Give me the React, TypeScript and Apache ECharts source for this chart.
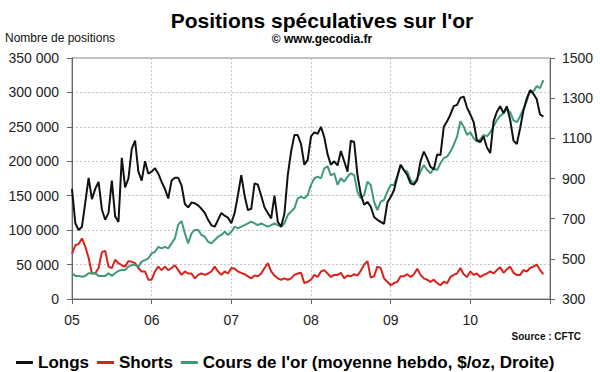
import { useEffect, useRef } from 'react';
import * as echarts from 'echarts';

// Sampling: two readings per month, starting January 2005
const START_YEAR = 2005;
const SAMPLES_PER_YEAR = 24;
const yearTicks = ['05', '06', '07', '08', '09', '10'];

// Longs, thousands of positions
const longs = [
  160, 110, 100, 105, 140, 176, 145, 160, 170, 130, 115, 125, 172, 120, 112, 205, 162, 175,
  218, 230, 185, 172, 200, 182, 185, 190, 182, 170, 160, 146, 172, 176, 176, 165, 138, 133,
  140, 139, 136, 131, 125, 115, 107, 105, 115, 125, 121, 118, 110, 125, 151, 180, 150, 129,
  131, 168, 166, 150, 133, 125, 117, 150, 112, 105, 124, 180, 214, 238, 238, 225, 195, 202,
  236, 242, 240, 250, 235, 210, 195, 200, 194, 215, 200, 185, 230, 228, 180, 152, 137, 141,
  134, 119, 115, 112, 109, 140, 148, 158, 178, 195, 187, 180, 168, 166, 173, 200, 214, 204,
  192, 188, 210, 209, 250, 258, 268, 280, 282, 292, 294, 278, 268, 257, 230, 228, 236, 220,
  212, 258, 272, 280, 270, 280, 260, 230, 225, 248, 274, 291, 303, 298, 290, 268, 265,
];

// Shorts, thousands of positions
const shorts = [
  66, 78, 80, 88, 76, 60, 37, 37, 45, 68, 70, 47, 45, 57, 52, 49, 47, 55,
  54, 52, 45, 40, 40, 28, 28, 40, 47, 42, 47, 42, 45, 49, 42, 35, 40, 37,
  37, 30, 35, 37, 35, 37, 40, 47, 40, 35, 40, 37, 45, 44, 40, 38, 36, 33,
  30, 34, 33, 37, 45, 52, 40, 34, 30, 28, 30, 28, 30, 35, 37, 38, 23, 25,
  28, 35, 32, 40, 42, 37, 32, 35, 35, 38, 30, 34, 33, 36, 34, 41, 50, 55,
  31, 33, 47, 45, 30, 25, 20, 23, 25, 33, 33, 36, 32, 36, 44, 35, 30, 28,
  25, 28, 23, 20, 25, 23, 32, 35, 37, 45, 36, 32, 40, 35, 37, 32, 35, 37,
  40, 37, 42, 46, 38, 43, 47, 38, 35, 35, 42, 40, 45, 47, 50, 42, 36,
];

// Gold price, weekly average, $/oz (right axis)
const gold = [
  428, 415, 415, 411, 415, 428, 428, 428, 415, 415, 415, 428, 415, 428, 440, 444, 444, 461,
  469, 469, 461, 486, 494, 502, 527, 535, 560, 552, 560, 552, 577, 602, 670, 688, 627, 577,
  627, 644, 644, 619, 610, 585, 577, 594, 610, 619, 635, 619, 635, 660, 652, 660, 668, 677,
  685, 677, 668, 677, 668, 660, 668, 677, 668, 660, 677, 718, 735, 752, 801, 810, 801, 818,
  868, 901, 909, 901, 951, 960, 915, 926, 868, 901, 884, 909, 926, 917, 834, 801, 818, 884,
  868, 785, 743, 785, 793, 834, 868, 868, 909, 967, 942, 934, 892, 876, 901, 934, 967, 942,
  926, 951, 942, 976, 1001, 1009, 1034, 1067, 1108, 1185, 1158, 1117, 1130, 1100, 1085, 1095, 1117, 1110,
  1130, 1160, 1190, 1212, 1225, 1245, 1230, 1190, 1180, 1210, 1245, 1285, 1340, 1333, 1360, 1350, 1390,
];

const seriesNames = ['Longs', 'Shorts', "Cours de l'or (moyenne hebdo, $/oz, Droite)"];
const seriesColors = ['#111111', '#d8221c', '#3f9a76'];

const toPairs = (vals: number[]) => vals.map((v, i) => [START_YEAR + i / SAMPLES_PER_YEAR, v]);

const FONT = "'Liberation Sans', Arial, sans-serif";

export default function App() {
  const ref = useRef<HTMLDivElement>(null);
  useEffect(() => {
    document.body.style.margin = '0';
    if (!ref.current) return;
    const chart = echarts.init(ref.current, undefined, { renderer: 'svg' });
    const axisLineColor = '#666';
    chart.setOption({
      animation: false,
      backgroundColor: '#ffffff',
      textStyle: { fontFamily: FONT },
      grid: {
        left: 72, right: 50, top: 58, bottom: 73,
        show: true, borderColor: '#888', borderWidth: 1, backgroundColor: 'transparent',
      },
      legend: {
        left: 11, top: 349,
        icon: 'rect', itemWidth: 17, itemHeight: 3, itemGap: 8,
        textStyle: { fontSize: 17, fontWeight: 'bold', color: '#000', fontFamily: FONT },
        data: seriesNames,
      },
      xAxis: {
        type: 'value', min: 2005, max: 2011, interval: 1,
        axisLine: { show: true, lineStyle: { color: axisLineColor } },
        axisTick: { show: true, length: 5, lineStyle: { color: axisLineColor } },
        splitLine: { show: true, lineStyle: { type: [2, 2], color: '#c4c4c4' } },
        axisLabel: {
          fontSize: 14, color: '#222', margin: 14, fontFamily: FONT,
          formatter: (v: number) => yearTicks[Math.round(v - START_YEAR)] ?? '',
        },
      },
      yAxis: [
        {
          type: 'value', min: 0, max: 350, interval: 50,
          axisLine: { show: true, lineStyle: { color: axisLineColor } },
          axisTick: { show: true, length: 5, lineStyle: { color: axisLineColor } },
          splitLine: { show: true, lineStyle: { type: [2, 2], color: '#c4c4c4' } },
          axisLabel: {
            fontSize: 14, color: '#222', margin: 13, fontFamily: FONT,
            formatter: (v: number) => (v === 0 ? '0' : `${v} 000`),
          },
        },
        {
          type: 'value', min: 300, max: 1500, interval: 200, position: 'right',
          axisLine: { show: true, lineStyle: { color: axisLineColor } },
          axisTick: { show: true, length: 5, lineStyle: { color: axisLineColor } },
          splitLine: { show: false },
          axisLabel: {
            fontSize: 14, color: '#222', margin: 12, fontFamily: FONT,
            formatter: (v: number) => String(v),
          },
        },
      ],
      series: [
        {
          name: seriesNames[0], type: 'line', yAxisIndex: 0, data: toPairs(longs),
          showSymbol: false, color: seriesColors[0], lineStyle: { width: 2, color: seriesColors[0] },
          emphasis: { disabled: true }, z: 3,
        },
        {
          name: seriesNames[1], type: 'line', yAxisIndex: 0, data: toPairs(shorts),
          showSymbol: false, color: seriesColors[1], lineStyle: { width: 2, color: seriesColors[1] },
          emphasis: { disabled: true }, z: 2,
        },
        {
          name: seriesNames[2], type: 'line', yAxisIndex: 1, data: toPairs(gold),
          showSymbol: false, color: seriesColors[2], lineStyle: { width: 2, color: seriesColors[2] },
          emphasis: { disabled: true }, z: 2,
        },
      ],
      graphic: [
        {
          type: 'text', x: 322, y: 20,
          style: {
            text: "Positions spéculatives sur l'or", fill: '#000',
            fontSize: 21, fontWeight: 'bold', fontFamily: FONT,
            textAlign: 'center', textVerticalAlign: 'middle',
          },
        },
        {
          type: 'text', x: 322, y: 39,
          style: {
            text: '© www.gecodia.fr', fill: '#000',
            fontSize: 12, fontWeight: 'bold', fontFamily: FONT,
            textAlign: 'center', textVerticalAlign: 'middle',
          },
        },
        {
          type: 'text', x: 5, y: 38,
          style: {
            text: 'Nombre de positions', fill: '#111',
            fontSize: 12, fontFamily: FONT,
            textAlign: 'left', textVerticalAlign: 'middle',
          },
        },
        {
          type: 'text', x: 581, y: 336,
          style: {
            text: 'Source : CFTC', fill: '#111',
            fontSize: 10, fontWeight: 'bold', fontFamily: FONT,
            textAlign: 'right', textVerticalAlign: 'middle',
          },
        },
      ],
    });
    return () => chart.dispose();
  }, []);
  return <div ref={ref} style={{ width: 600, height: 372 }} />;
}
